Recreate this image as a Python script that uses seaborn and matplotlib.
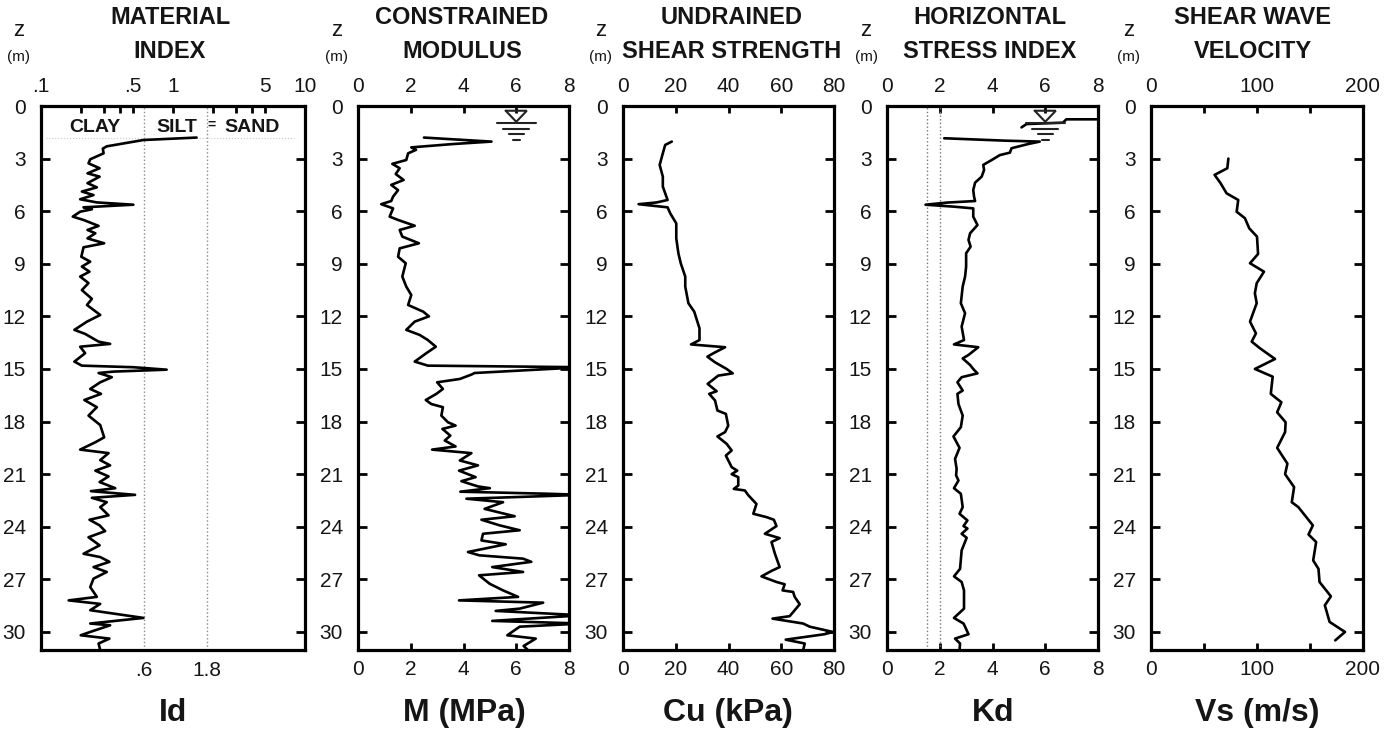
import matplotlib
matplotlib.use('Agg')
import matplotlib.pyplot as plt
import seaborn as sns
from matplotlib.ticker import NullLocator

# Values
id_z = [1.8, 1.94, 2.3, 2.43, 2.7, 3.04, 3.27, 3.55, 3.84, 4.03, 4.4, 4.64, 4.88, 5.08, 5.32, 5.5, 5.63, 5.78, 5.89,
        6.03, 6.31, 6.5, 6.84, 7.07, 7.26, 7.55, 7.83, 8.06, 8.6, 8.88, 9.16, 9.45, 9.73, 10.1, 10.5, 11, 11.35, 11.92,
        12.3, 12.77, 13.0, 13.44, 13.57, 13.73, 14.1, 14.58, 14.81, 14.9, 15.04, 15.15, 15.23, 15.47, 15.76, 16.14,
        16.42, 16.77, 17.18, 17.66, 18.2, 18.9, 19.18, 19.6, 19.8, 20.2, 20.5, 20.8, 21.13, 21.45, 21.8, 21.97, 22.18,
        22.35, 22.6, 22.88, 23.35, 23.6, 23.92, 24.25, 24.6, 25.06, 25.54, 25.73, 26, 26.3, 26.58, 26.96, 27.44, 28,
        28.2, 28.4, 28.76, 29.2, 29.52, 29.62, 30, 30.19, 30.38, 30.66, 31.04]
id_val = [1.51, .597, .315, .294, .298, .236, .229, .278, .225, .278, .225, .265, .204, .25, .198, .265, .501, .21, .243,
          .198, .174, .21, .273, .225, .258, .225, .301, .21, .202, .236, .204, .233, .198, .229, .204, .243, .223, .281,
          .223, .179, .216, .273, .334, .198, .216, .179, .204, .501, .895, .354, .273, .344, .281, .236,
          .285, .213, .265, .229, .281, .301, .258, .198, .325, .281, .334, .258, .325, .278, .365, .239, .516,
          .243, .315, .281, .325, .233, .278, .306, .229, .278, .21, .281, .33, .25, .315, .25, .236, .265,
          .162, .281, .236, .597, .236, .334, .236, .2, .33, .273, .281]

m_z = [1.8, 1.9, 2.03, 2.17, 2.36, 2.5, 2.7, 3.08, 3.3, 3.55, 3.88, 4.22, 4.5, 4.8, 5.17, 5.42, 5.6, 5.84, 6.31, 6.5,
       6.83, 7.07, 7.45, 7.83, 8.12, 8.6, 8.97, 9.73, 10.3, 10.78, 11.35, 11.73, 12.0, 12.3, 12.77, 13.06, 13.35, 13.73,
       14.1, 14.58, 14.81, 14.85, 14.9, 15.23, 15.32, 15.57, 15.76, 16.14, 16.42, 16.77, 17.0, 17.18, 17.66, 18.04,
       18.23, 18.42, 18.8, 19.08, 19.42, 19.6, 19.8, 20.22, 20.5, 20.8, 21.17, 21.4, 21.7, 21.8, 22.0, 22.12, 22.18,
       22.3, 22.4, 22.6, 22.98, 23.4, 23.6, 23.92, 24.2, 24.4, 24.78, 25.0, 25.44, 25.63, 25.82, 26.0, 26.3, 26.58,
       26.77, 27.25, 27.63, 28.0, 28.2, 28.33, 28.67, 28.8, 29.05, 29.37, 29.52, 29.7, 30.19, 30.38, 30.8, 31.04]
m_val = [2.5, 3.6, 5.06, 3.6, 2.02, 2.2, 1.9, 1.83, 1.3, 1.58, 1.43, 1.73, 1.26, 1.52, 1.33, 1.26, .88, 1.33, 1.2, 1.52,
         2.15, 1.58, 1.68, 2.31, 1.58, 1.52, 1.81, 1.68, 1.83, 2.02, 1.9, 2.47, 2.69, 2.15, 1.83, 2.34, 2.65, 2.95,
         2.59, 2.15, 2.65, 5.3, 8.5, 4.42, 4.3, 3.86, 3.0, 3.22, 2.97, 2.57, 2.78, 3.22, 3.16, 3.41,
         3.7, 3.2, 3.5, 3.29, 3.7, 2.81, 4.3, 3.86, 4.55, 3.83, 4.46, 3.92, 4.55, 5.0, 3.88, 7.27, 8.5,
         6.13, 4.11, 5.5, 4.8, 5.94, 4.68, 5.37, 6.13, 4.74, 4.68, 5.6, 4.17, 4.6, 6.26, 6.57, 5.09, 6.26,
         4.59, 4.99, 5.5, 6.07, 3.83, 7.02, 6.13, 5.22, 8.5, 5.09, 8.5, 6.13, 5.66, 6.74, 6.28, 6.45]

cu_z = [2.03, 2.22, 2.7, 3.36, 4.03, 4.6, 5.36, 5.5, 5.6, 5.78, 6.12, 6.7, 7.55, 8.4, 8.97, 9.73, 10.3, 11.25, 11.73,
        12.68, 13.35, 13.6, 13.76, 14.1, 14.3, 14.62, 15.0, 15.25, 15.38, 15.85, 16.27, 16.42, 16.8, 17.37, 17.56, 18.23,
        18.6, 18.85, 19.27, 19.65, 19.94, 20.6, 20.8, 21.0, 21.17, 21.65, 21.84, 21.93, 22.2, 22.7, 23.26, 23.45, 23.6,
        23.96, 24.4, 24.65, 24.87, 25.54, 26.3, 26.52, 26.83, 27.15, 27.28, 27.63, 27.72, 28.0, 28.42, 29.1, 29.24, 29.52,
        29.7, 30.0, 30.13, 30.44, 30.66, 31.04]
cu_val = [18.5, 16, 15.1, 13.9, 15.1, 15.1, 16.9, 12.8, 5.9, 16.9, 17.9, 20.2, 20.2, 21, 21.9, 23.6, 23.6, 24.8, 27,
          29, 29, 25.8, 38.7, 34.3, 32, 34.9, 39.3, 41.6, 36.1, 32.1, 35.5, 32.7, 34.9, 35.8, 39, 39.9,
          38.7, 35.8, 39.3, 41.2, 39, 41.2, 43.3, 41.2, 43.7, 43.7, 42, 46.2, 47.5, 50.6, 49.4, 54.4, 57.2,
          58.2, 53.8, 59.4, 56.3, 57.6, 59.4, 56.3, 52.5, 58.2, 61.3, 60.5, 64.5, 65.1, 67, 63.2, 56.7, 68.3,
          70.8, 79.6, 76.4, 61.7, 68.9, 68.3]

# Kd has a short piece above the water table that does not join the main trace
kd_top_z = [.76, .76, .95, 1.03, 1.22]
kd_top_val = [8.5, 6.8, 6.67, 5.29, 5.1]
kd_z = [1.84, 1.98, 2.03, 2.17, 2.41, 2.66, 2.8, 3.08, 3.36, 3.65, 4.03, 4.37, 4.79, 5.17, 5.42, 5.51, 5.63, 5.74, 5.84,
        6.31, 6.79, 7.26, 7.64, 8.02, 8.4, 9.16, 9.73, 10.3, 11.25, 11.82, 12.58, 13.35, 13.6, 13.76, 14.2, 14.4, 14.77,
        15.0, 15.25, 15.47, 15.76, 16.23, 16.42, 17.0, 17.66, 18.32, 18.85, 19.5, 20.13, 20.7, 21.07, 21.36, 21.8, 22.12,
        22.88, 23.26, 23.64, 23.96, 24.1, 24.4, 24.63, 25.35, 26.4, 26.83, 27.15, 27.63, 28.67, 29.2, 29.52, 29.7, 30.13,
        30.38, 30.66, 31.04]
kd_val = [2.17, 4.53, 5.79, 5.35, 4.72, 4.66, 4.28, 3.97, 3.65, 3.68, 3.59, 3.34, 3.27, 3.3, 3.34, 2.27, 1.46, 2.52, 3.27,
          3.27, 3.43, 3.15, 3.09, 3.17, 3.0, 3.0, 2.96, 2.87, 2.8, 2.96, 2.83, 2.92, 2.54, 3.46, 3.09, 2.87, 3.15,
          3.27, 3.43, 2.83, 2.67, 2.87, 2.67, 2.71, 2.87, 2.8, 2.52, 2.75, 2.58, 2.64, 2.62, 2.71, 2.54, 2.8,
          2.87, 2.75, 3.05, 2.9, 3.05, 2.83, 3.02, 2.83, 2.77, 2.54, 2.83, 2.92, 2.92, 2.54, 2.9, 2.96, 3.09,
          2.58, 2.77, 2.75]

vs_z = [3.0, 3.55, 3.93, 4.4, 4.98, 5.36, 6.03, 6.4, 6.98, 7.45, 8.44, 8.97, 9.45, 10.11, 10.68, 11.25, 12.3, 12.97, 13.44,
        13.82, 14.43, 15.0, 15.44, 16.42, 16.9, 17.47, 18.04, 18.6, 19.5, 20.4, 21.0, 21.74, 22.6, 22.88, 23.92, 24.44,
        24.87, 25.92, 26.4, 27.15, 27.97, 28.48, 29.43, 30.0, 30.48]
vs_val = [73, 72, 60, 65.6, 71.3, 82.3, 80.8, 88.6, 92.7, 100, 101, 93.4, 106.6, 99.7, 98, 99.7, 93.4, 99, 95,
          102.8, 117, 98, 114.8, 113, 123, 119, 127, 126.5, 119, 128.7, 126.5, 135, 132.8, 139, 152.7, 148.6,
          155.8, 153, 158, 159, 169.7, 164, 168.5, 183, 173.8]

depth_ticks = [0, 3, 6, 9, 12, 15, 18, 21, 24, 27, 30]
id_ticks = [.1, .2, .3, .4, .5, 1, 2, 3, 4, 5, 10]
id_tick_labels = ['.1', '', '', '', '.5', '1', '', '', '', '5', '10']
id_limits = ['.6', '1.8']
id_limit_vals = [.6, 1.8]
kd_limit_vals = [1.5, 2]

titles = [['MATERIAL', 'INDEX'], ['CONSTRAINED', 'MODULUS'], ['UNDRAINED', 'SHEAR STRENGTH'],
          ['HORIZONTAL', 'STRESS INDEX'], ['SHEAR WAVE', 'VELOCITY']]
xlabels = ['Id', 'M (MPa)', 'Cu (kPa)', 'Kd', 'Vs (m/s)']

W, H = 1397, 734
TXT = '#151515'
TICK_SIZE = 15

sns.set_theme(style='ticks')
plt.rcParams['font.family'] = ['Liberation Sans', 'DejaVu Sans']
plt.rcParams['axes.linewidth'] = 2.3
plt.rcParams['axes.edgecolor'] = 'black'
plt.rcParams['xtick.color'] = 'black'
plt.rcParams['ytick.color'] = 'black'

fig = plt.figure(figsize=(W / 100, H / 100), dpi=100, facecolor='white')


def px_text(x, y, s, size, weight='normal'):
    fig.text(x / W, 1 - y / H, s, fontsize=size, fontweight=weight, color=TXT, ha='center', va='center')


def make_panel(left, right):
    ax = fig.add_axes([left / W, 1 - 650 / H, (right - left) / W, (650 - 106) / H])
    ax.set_ylim(31.03, 0)
    ax.set_yticks(depth_ticks)
    ax.tick_params(axis='y', direction='in', left=True, right=True, length=6.5, width=2, labelsize=TICK_SIZE,
                   pad=11, labelcolor=TXT)
    ax.tick_params(axis='x', direction='in', top=True, bottom=True, labeltop=True, labelbottom=True, length=5,
                   width=2, labelsize=TICK_SIZE, pad=7.5, labelcolor=TXT)
    return ax


def draw_trace(ax, x, z):
    sns.lineplot(x=x, y=z, sort=False, estimator=None, color='black', linewidth=1.9, ax=ax,
                 solid_joinstyle='round')
    ax.set_xlabel('')
    ax.set_ylabel('')


def draw_water_table(ax, x0):
    ax.plot([x0 - .4, x0 + .4, x0, x0 - .4], [.27, .27, .9, .27], color='#222222', lw=1.5, solid_joinstyle='miter')
    for depth, half in zip([.95, 1.31, 1.62, 1.92], [.73, .5, .29, .13]):
        ax.plot([x0 - half, x0 + half], [depth, depth], color='#222222', lw=1.5)


# Id panel, log axis with the soil class limits
ax1 = make_panel(41, 305)
ax1.set_xscale('log')
ax1.set_xlim(.1, 10)
ax1.set_xticks(id_ticks, id_tick_labels)
ax1.xaxis.set_minor_locator(NullLocator())
ax1.tick_params(axis='x', bottom=False, labelbottom=False)
for v in id_limit_vals:
    ax1.axvline(v, color='#8a8a8a', lw=1, ls=':')
ax1.axhline(1.8, xmin=.02, xmax=.96, color='#c8c8c8', lw=.8, ls=':')
draw_trace(ax1, id_val, id_z)
sec = ax1.secondary_xaxis('bottom')
sec.set_xticks(id_limit_vals, id_limits)
sec.xaxis.set_minor_locator(NullLocator())
sec.tick_params(axis='x', length=0, labelsize=TICK_SIZE, pad=8, labelcolor=TXT)
sec.spines['bottom'].set_visible(False)

# M panel
ax2 = make_panel(358, 569)
ax2.set_xlim(0, 8)
ax2.set_xticks([0, 2, 4, 6, 8])
draw_trace(ax2, m_val, m_z)
draw_water_table(ax2, 6)

# Cu panel
ax3 = make_panel(623, 834)
ax3.set_xlim(0, 80)
ax3.set_xticks([0, 20, 40, 60, 80])
draw_trace(ax3, cu_val, cu_z)

# Kd panel
ax4 = make_panel(887, 1098)
ax4.set_xlim(0, 8)
ax4.set_xticks([0, 2, 4, 6, 8])
for v in kd_limit_vals:
    ax4.axvline(v, color='#777777', lw=1, ls=':')
draw_trace(ax4, kd_val, kd_z)
draw_trace(ax4, kd_top_val, kd_top_z)
draw_water_table(ax4, 6)

# Vs panel, ticks every 50 but labels every 100
ax5 = make_panel(1151, 1363)
ax5.set_xlim(0, 200)
ax5.set_xticks([0, 50, 100, 150, 200], ['0', '', '100', '', '200'])
draw_trace(ax5, vs_val, vs_z)

# Titles, axis names and depth unit
title_x = [170, 462, 732, 990, 1253]
label_x = [173, 464, 728, 993, 1257]
z_x = [19, 337, 601, 866, 1129]
for i in range(5):
    px_text(title_x[i], 18, titles[i][0], 17, 'bold')
    px_text(title_x[i], 52, titles[i][1], 17, 'bold')
    px_text(label_x[i], 713, xlabels[i], 23, 'bold')
    px_text(z_x[i], 30, 'z', 16)
    px_text(z_x[i], 57, '(m)', 11)

px_text(95, 128, 'CLAY', 14, 'bold')
px_text(177, 128, 'SILT', 14, 'bold')
px_text(252, 128, 'SAND', 14, 'bold')
px_text(212, 125, '=', 10, 'bold')

fig.savefig('out.png', dpi=100)
